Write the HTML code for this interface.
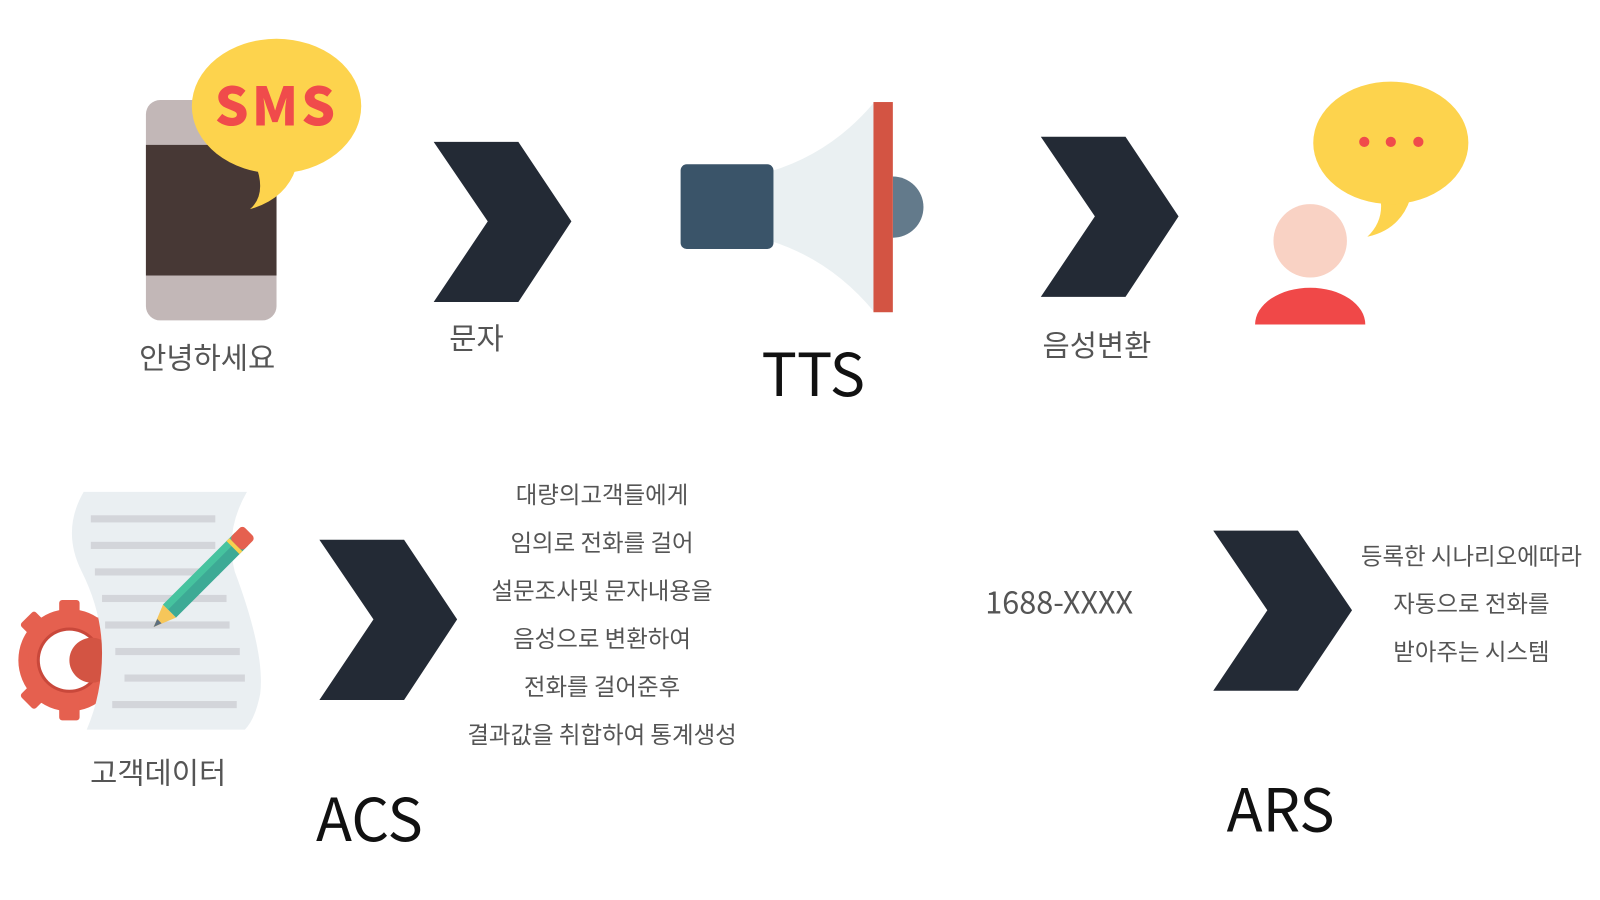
<!DOCTYPE html>
<html><head><meta charset="utf-8"><style>
html,body{margin:0;padding:0;background:#fff;}
svg{display:block;}
text{font-family:"Noto Sans CJK KR","Liberation Sans",sans-serif;}
</style></head><body>
<svg width="1600" height="900" viewBox="0 0 1600 900" xmlns="http://www.w3.org/2000/svg">
<rect width="1600" height="900" fill="#fff"/>
<g transform="scale(1.0204)">
<!-- phone -->
<rect x="143" y="98" width="128" height="216" rx="14" fill="#c2b7b7"/>
<rect x="143" y="142" width="128" height="128" fill="#473835"/>
<path d="M250 160 Q262 190 245 205 Q280 195 290 165 Z" fill="#fdd34d"/>
<ellipse cx="271" cy="104" rx="83" ry="66" fill="#fdd34d"/>
<text x="271" y="123" text-anchor="middle" font-size="52" font-weight="900" fill="#f04b4b" letter-spacing="3">SMS</text>
<text x="203" y="361" text-anchor="middle" font-size="29" fill="#555">안녕하세요</text>
<!-- chevrons -->
<g fill="#232a35">
<polygon points="425,139 508,139 560,217 508,296 425,296 478,217"/>
<polygon points="1020,134 1103,134 1155,212 1103,291 1020,291 1073,212"/>
<polygon points="313,529 396,529 448,607 396,686 313,686 366,607"/>
<polygon points="1189,520 1272,520 1325,598 1272,677 1189,677 1242,598"/>
</g>
<text x="467" y="342" text-anchor="middle" font-size="29" fill="#555">문자</text>
<!-- megaphone -->
<path d="M755 168 Q815 150 857 100 L857 306 Q815 255 755 236 Z" fill="#eaf0f2"/>
<rect x="667" y="161" width="91" height="83" rx="6" fill="#3a5469"/>
<path d="M875 173 A30 30 0 0 1 875 233 Z" fill="#637a8b"/>
<rect x="856" y="100" width="19" height="206" fill="#d35443"/>
<text x="797" y="388" text-anchor="middle" font-size="58" fill="#111">TTS</text>
<text x="1075" y="349" text-anchor="middle" font-size="29" fill="#555">음성변환</text>
<!-- person -->
<path d="M1352 190 Q1358 215 1340 232 Q1372 225 1382 195 Z" fill="#fdd34d"/>
<ellipse cx="1363" cy="140" rx="76" ry="60" fill="#fdd34d"/>
<circle cx="1337" cy="139" r="5" fill="#f04b4b"/>
<circle cx="1363" cy="139" r="5" fill="#f04b4b"/>
<circle cx="1390" cy="139" r="5" fill="#f04b4b"/>
<circle cx="1284" cy="236" r="36" fill="#f9d2c4"/>
<path d="M1230 318 A54 36 0 0 1 1338 318 Z" fill="#f04848"/>
<!-- document + gear -->
<g fill="#e5604f">
<circle cx="68" cy="647" r="50"/>
<rect x="58" y="588" width="20" height="118" rx="3"/>
<rect x="28" y="637" width="80" height="20" rx="3"/>
<rect x="58" y="588" width="20" height="118" rx="3" transform="rotate(45 68 647)"/>
<rect x="58" y="588" width="20" height="118" rx="3" transform="rotate(-45 68 647)"/>
</g>
<circle cx="68" cy="647" r="32" fill="#c9483b"/>
<circle cx="68" cy="647" r="29" fill="#fff"/>
<circle cx="90" cy="647" r="22" fill="#d35443"/>
<path d="M82 482 L242 482 Q220 520 230 560 Q260 640 255 680 Q250 705 240 715 L85 715 Q100 680 100 640 Q100 600 80 560 Q60 520 82 482 Z" fill="#eaeff2"/>
<g fill="#d3d5da">
<rect x="89" y="505" width="122" height="7"/><rect x="89" y="531" width="122" height="7"/>
<rect x="93" y="557" width="122" height="7"/><rect x="100" y="583" width="122" height="7"/>
<rect x="103" y="609" width="122" height="7"/><rect x="113" y="635" width="122" height="7"/>
<rect x="122" y="661" width="118" height="7"/><rect x="110" y="687" width="122" height="7"/>
</g>
<g transform="rotate(-45 205 560)">
<rect x="150" y="551" width="100" height="18" fill="#3daa95"/>
<rect x="150" y="551" width="100" height="7" fill="#46c39f"/>
<rect x="238" y="551" width="4" height="18" fill="#f8d04f"/>
<rect x="242" y="551" width="18" height="18" rx="4" fill="#e5604f"/>
<polygon points="150,551 128,560 150,569" fill="#f6c65a"/>
<polygon points="136,557 128,560 136,563" fill="#5d6f80"/>
</g>
<text x="155" y="768" text-anchor="middle" font-size="29" fill="#555">고객데이터</text>
<text x="362" y="824" text-anchor="middle" font-size="58" fill="#111">ACS</text>
<g font-size="23" fill="#555" text-anchor="middle">
<text x="590" y="493">대량의고객들에게</text>
<text x="590" y="540">임의로 전화를 걸어</text>
<text x="590" y="587">설문조사및 문자내용을</text>
<text x="590" y="634">음성으로  변환하여</text>
<text x="590" y="681">전화를 걸어준후</text>
<text x="590" y="728">결과값을 취합하여 통계생성</text>
<text x="1442" y="553">등록한 시나리오에따라</text>
<text x="1442" y="600">자동으로 전화를</text>
<text x="1442" y="647">받아주는 시스템</text>
</g>
<text x="1038" y="601" text-anchor="middle" font-size="30" fill="#555">1688-XXXX</text>
<text x="1255" y="815" text-anchor="middle" font-size="58" fill="#111">ARS</text>
</g>
</svg>
</body></html>
